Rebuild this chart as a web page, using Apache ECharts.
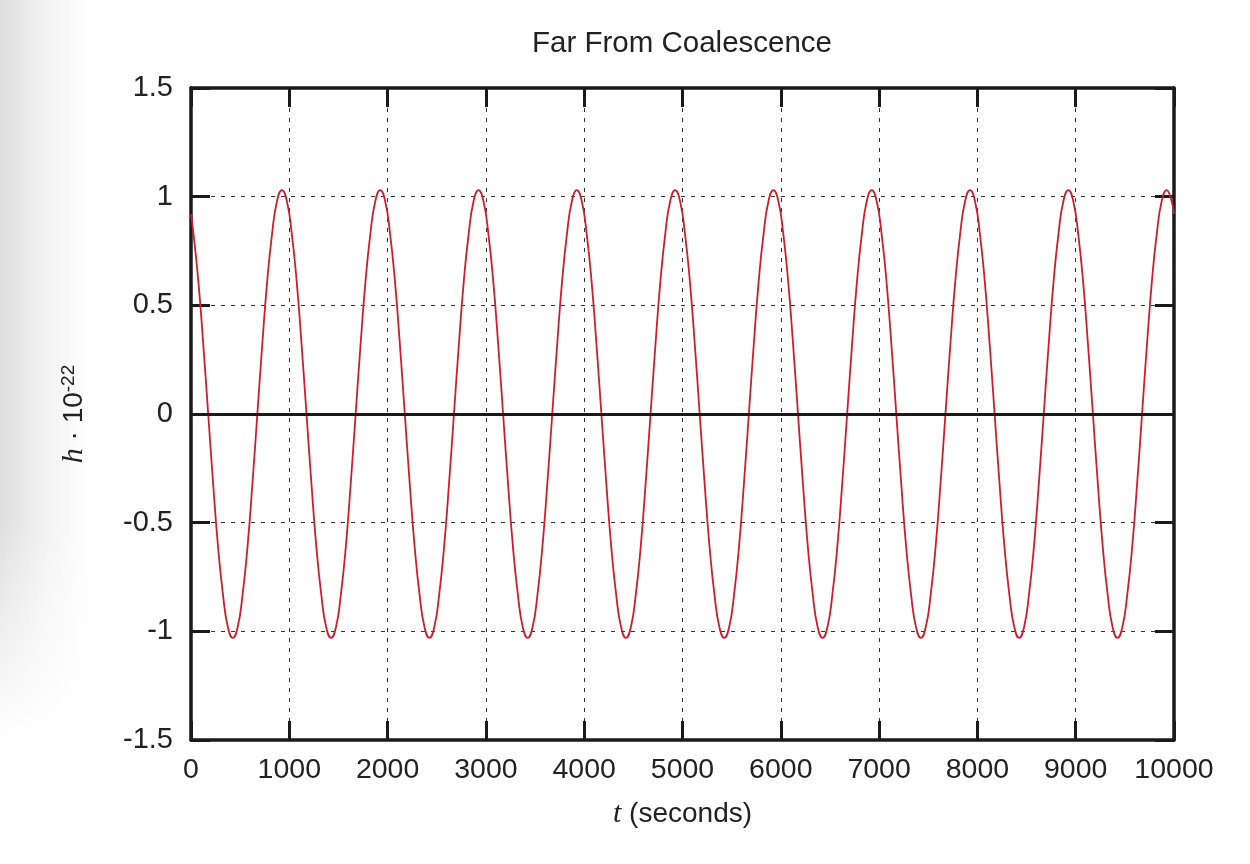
<!DOCTYPE html>
<html>
<head>
<meta charset="utf-8">
<script src="https://cdn.jsdelivr.net/npm/echarts@6/dist/echarts.min.js"></script>
<style>
  html, body { margin: 0; padding: 0; background: #ffffff; }
  #chart { width: 1250px; height: 864px; }
</style>
</head>
<body>
<div id="chart"></div>
<script>
// ---- data ----
const titleText = 'Far From Coalescence';
const xTickValues = [0, 1000, 2000, 3000, 4000, 5000, 6000, 7000, 8000, 9000, 10000];
const yTickValues = [-1.5, -1, -0.5, 0, 0.5, 1, 1.5];

// sample times (seconds)
const tSeconds = [
  0,
  25, 75, 125, 175, 225, 275, 325, 375, 425, 475, 525, 575, 625, 675, 725, 775, 825, 875, 925, 975,
  1025, 1075, 1125, 1175, 1225, 1275, 1325, 1375, 1425, 1475, 1525, 1575, 1625, 1675, 1725, 1775, 1825, 1875, 1925, 1975,
  2025, 2075, 2125, 2175, 2225, 2275, 2325, 2375, 2425, 2475, 2525, 2575, 2625, 2675, 2725, 2775, 2825, 2875, 2925, 2975,
  3025, 3075, 3125, 3175, 3225, 3275, 3325, 3375, 3425, 3475, 3525, 3575, 3625, 3675, 3725, 3775, 3825, 3875, 3925, 3975,
  4025, 4075, 4125, 4175, 4225, 4275, 4325, 4375, 4425, 4475, 4525, 4575, 4625, 4675, 4725, 4775, 4825, 4875, 4925, 4975,
  5025, 5075, 5125, 5175, 5225, 5275, 5325, 5375, 5425, 5475, 5525, 5575, 5625, 5675, 5725, 5775, 5825, 5875, 5925, 5975,
  6025, 6075, 6125, 6175, 6225, 6275, 6325, 6375, 6425, 6475, 6525, 6575, 6625, 6675, 6725, 6775, 6825, 6875, 6925, 6975,
  7025, 7075, 7125, 7175, 7225, 7275, 7325, 7375, 7425, 7475, 7525, 7575, 7625, 7675, 7725, 7775, 7825, 7875, 7925, 7975,
  8025, 8075, 8125, 8175, 8225, 8275, 8325, 8375, 8425, 8475, 8525, 8575, 8625, 8675, 8725, 8775, 8825, 8875, 8925, 8975,
  9025, 9075, 9125, 9175, 9225, 9275, 9325, 9375, 9425, 9475, 9525, 9575, 9625, 9675, 9725, 9775, 9825, 9875, 9925, 9975,
  10000
];

// strain h (in units of 1e-22) read at those times
const hValues = [
  0.92,
  0.83, 0.61, 0.32, 0, -0.32, -0.61, -0.83, -0.98, -1.03, -0.98, -0.83, -0.61, -0.32, 0, 0.32, 0.61, 0.83, 0.98, 1.03, 0.98,
  0.83, 0.61, 0.32, 0, -0.32, -0.61, -0.83, -0.98, -1.03, -0.98, -0.83, -0.61, -0.32, 0, 0.32, 0.61, 0.83, 0.98, 1.03, 0.98,
  0.83, 0.61, 0.32, 0, -0.32, -0.61, -0.83, -0.98, -1.03, -0.98, -0.83, -0.61, -0.32, 0, 0.32, 0.61, 0.83, 0.98, 1.03, 0.98,
  0.83, 0.61, 0.32, 0, -0.32, -0.61, -0.83, -0.98, -1.03, -0.98, -0.83, -0.61, -0.32, 0, 0.32, 0.61, 0.83, 0.98, 1.03, 0.98,
  0.83, 0.61, 0.32, 0, -0.32, -0.61, -0.83, -0.98, -1.03, -0.98, -0.83, -0.61, -0.32, 0, 0.32, 0.61, 0.83, 0.98, 1.03, 0.98,
  0.83, 0.61, 0.32, 0, -0.32, -0.61, -0.83, -0.98, -1.03, -0.98, -0.83, -0.61, -0.32, 0, 0.32, 0.61, 0.83, 0.98, 1.03, 0.98,
  0.83, 0.61, 0.32, 0, -0.32, -0.61, -0.83, -0.98, -1.03, -0.98, -0.83, -0.61, -0.32, 0, 0.32, 0.61, 0.83, 0.98, 1.03, 0.98,
  0.83, 0.61, 0.32, 0, -0.32, -0.61, -0.83, -0.98, -1.03, -0.98, -0.83, -0.61, -0.32, 0, 0.32, 0.61, 0.83, 0.98, 1.03, 0.98,
  0.83, 0.61, 0.32, 0, -0.32, -0.61, -0.83, -0.98, -1.03, -0.98, -0.83, -0.61, -0.32, 0, 0.32, 0.61, 0.83, 0.98, 1.03, 0.98,
  0.83, 0.61, 0.32, 0, -0.32, -0.61, -0.83, -0.98, -1.03, -0.98, -0.83, -0.61, -0.32, 0, 0.32, 0.61, 0.83, 0.98, 1.03, 0.98,
  0.92
];

// ---- chart ----
const FONT = '"Liberation Sans", Arial, Helvetica, sans-serif';
const SERIF = '"Liberation Serif", "DejaVu Serif", serif';
const INK = '#1a1a1a';
const TXT = '#222222';

const seriesData = tSeconds.map((t, i) => [t, hValues[i]]);

const xMin = xTickValues[0], xMax = xTickValues[xTickValues.length - 1];
const xStep = xTickValues[1] - xTickValues[0];
const yMin = yTickValues[0], yMax = yTickValues[yTickValues.length - 1];
const yStep = yTickValues[1] - yTickValues[0];

const tickStyle = { show: true, inside: true, length: 19, lineStyle: { color: INK, width: 3 } };
const lineStyleAxis = { show: true, onZero: false, lineStyle: { color: INK, width: 3.5 } };
const gridDash = { show: true, lineStyle: { color: '#333', width: 1, type: [4, 6] } };

const chart = echarts.init(document.getElementById('chart'), null, { renderer: 'canvas' });

chart.setOption({
  animation: false,
  backgroundColor: '#ffffff',
  title: {
    text: titleText,
    left: 682, top: 29, textAlign: 'center', padding: 0,
    textStyle: { fontFamily: FONT, fontSize: 29.5, fontWeight: 'normal', color: TXT }
  },
  graphic: [
    {
      type: 'rect', silent: true, z: -10,
      shape: { x: 0, y: 0, width: 90, height: 740 },
      style: { fill: new echarts.graphic.LinearGradient(0, 0, 1, 0, [
        { offset: 0, color: 'rgba(0,0,0,0.13)' },
        { offset: 0.5, color: 'rgba(0,0,0,0.05)' },
        { offset: 1, color: 'rgba(0,0,0,0)' }
      ]) }
    },
    {
      type: 'rect', silent: true, z: -9,
      shape: { x: 0, y: 520, width: 90, height: 220 },
      style: { fill: new echarts.graphic.LinearGradient(0, 0, 0, 1, [
        { offset: 0, color: 'rgba(255,255,255,0)' },
        { offset: 1, color: 'rgba(255,255,255,1)' }
      ]) }
    }
  ],
  grid: { left: 191, right: 76, top: 88, bottom: 124, containLabel: false },
  xAxis: [
    {
      type: 'value', position: 'bottom', min: xMin, max: xMax, interval: xStep,
      axisLine: lineStyleAxis, axisTick: tickStyle, splitLine: gridDash,
      axisLabel: { margin: 16, fontSize: 28.5, fontFamily: FONT, color: TXT, formatter: v => String(v) },
      name: '{i|t} (seconds)', nameLocation: 'middle', nameGap: 59,
      nameTextStyle: {
        fontSize: 28, fontFamily: FONT, color: TXT,
        rich: { i: { fontFamily: SERIF, fontStyle: 'italic', fontSize: 30, color: TXT } }
      }
    },
    {
      type: 'value', position: 'top', min: xMin, max: xMax, interval: xStep,
      axisLine: lineStyleAxis, axisTick: tickStyle, splitLine: { show: false },
      axisLabel: { show: false }
    }
  ],
  yAxis: [
    {
      type: 'value', position: 'left', min: yMin, max: yMax, interval: yStep,
      axisLine: lineStyleAxis, axisTick: tickStyle, splitLine: gridDash,
      axisLabel: { margin: 18, fontSize: 29, fontFamily: FONT, color: TXT },
      name: '{i|h} · 10{sup|-22}', nameLocation: 'middle', nameRotate: 90, nameGap: 102,
      nameTextStyle: {
        fontSize: 28, fontFamily: FONT, color: TXT, lineHeight: 30,
        rich: {
          i: { fontFamily: SERIF, fontStyle: 'italic', fontSize: 30, color: TXT, lineHeight: 30 },
          sup: { fontSize: 19, fontFamily: FONT, color: TXT, verticalAlign: 'top', lineHeight: 19 }
        }
      }
    },
    {
      type: 'value', position: 'right', min: yMin, max: yMax, interval: yStep,
      axisLine: lineStyleAxis, axisTick: tickStyle, splitLine: { show: false },
      axisLabel: { show: false }
    }
  ],
  series: [
    {
      type: 'line', xAxisIndex: 0, yAxisIndex: 0,
      data: seriesData, smooth: true, showSymbol: false, symbol: 'none',
      lineStyle: { color: '#cc1f2d', width: 1.8 },
      z: 3,
      markLine: {
        silent: true, symbol: ['none', 'none'], label: { show: false },
        lineStyle: { color: INK, width: 3, type: 'solid' },
        data: [{ yAxis: 0 }]
      }
    }
  ]
});
</script>
</body>
</html>
